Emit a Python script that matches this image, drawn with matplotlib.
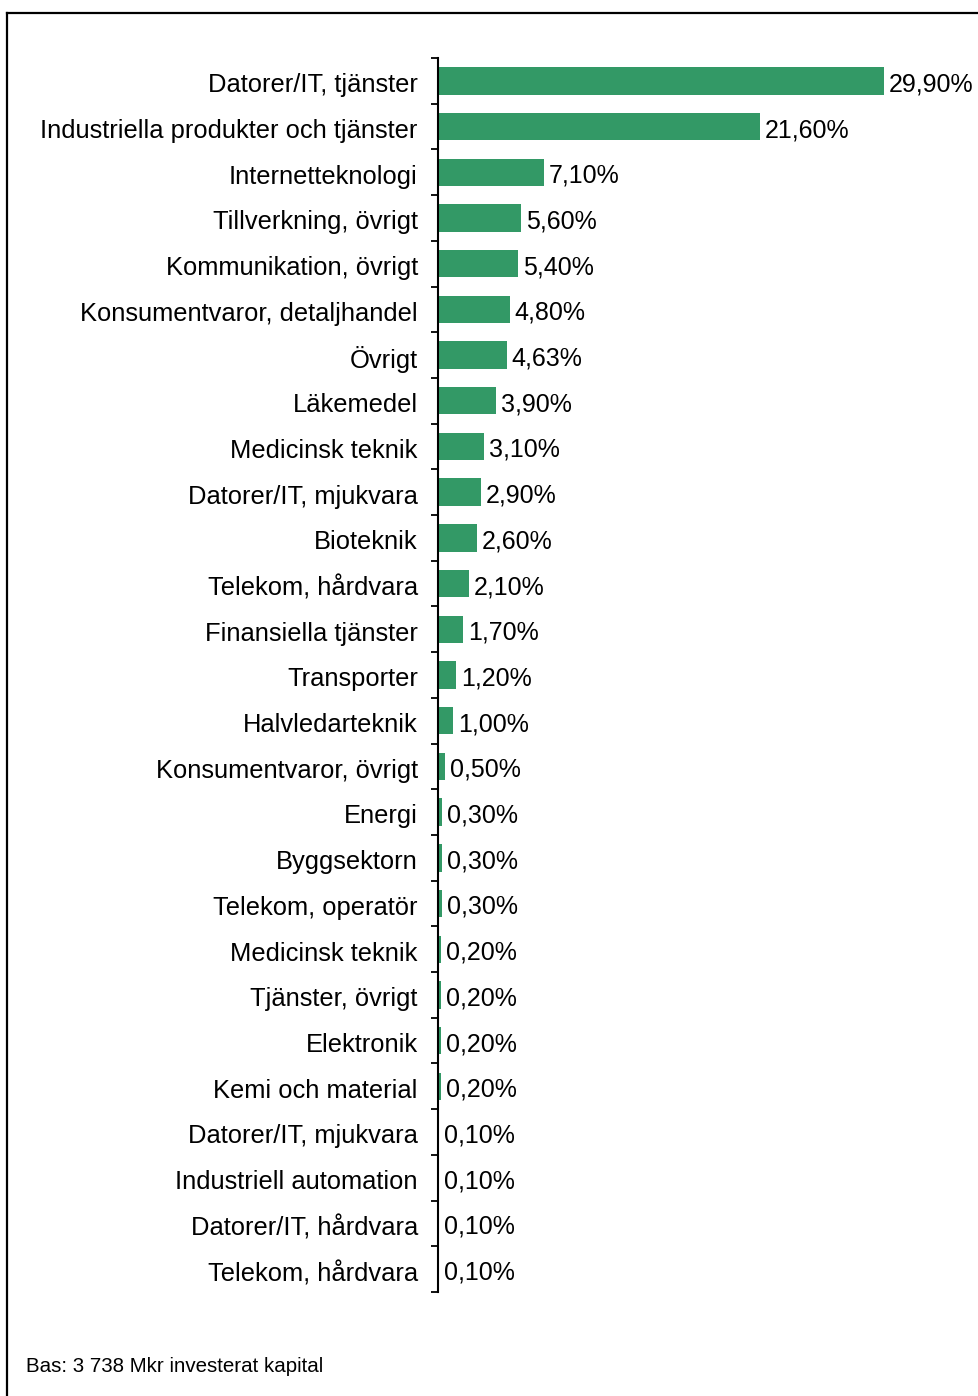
import matplotlib.pyplot as plt
import numpy as np
from matplotlib.lines import Line2D

# andel av investerat kapital per bransch (%)
branscher = [
    'Datorer/IT, tjänster',
    'Industriella produkter och tjänster',
    'Internetteknologi',
    'Tillverkning, övrigt',
    'Kommunikation, övrigt',
    'Konsumentvaror, detaljhandel',
    'Övrigt',
    'Läkemedel',
    'Medicinsk teknik',
    'Datorer/IT, mjukvara',
    'Bioteknik',
    'Telekom, hårdvara',
    'Finansiella tjänster',
    'Transporter',
    'Halvledarteknik',
    'Konsumentvaror, övrigt',
    'Energi',
    'Byggsektorn',
    'Telekom, operatör',
    'Medicinsk teknik',
    'Tjänster, övrigt',
    'Elektronik',
    'Kemi och material',
    'Datorer/IT, mjukvara',
    'Industriell automation',
    'Datorer/IT, hårdvara',
    'Telekom, hårdvara',
]
andel = [29.9, 21.6, 7.1, 5.6, 5.4, 4.8, 4.63, 3.9, 3.1, 2.9, 2.6, 2.1, 1.7,
         1.2, 1.0, 0.5, 0.3, 0.3, 0.3, 0.2, 0.2, 0.2, 0.2, 0.1, 0.1, 0.1, 0.1]
fotnot = 'Bas: 3 738 Mkr investerat kapital'

plt.rcParams['font.family'] = ['Liberation Sans', 'DejaVu Sans']

W, H = 979, 1396
fig = plt.figure(figsize=(W / 100, H / 100), dpi=100)
ax = fig.add_axes([438 / W, 1 - 1292 / H, 1 - 438 / W, (1292 - 58) / H])

y = np.arange(len(branscher))
ax.barh(y, andel, height=0.6, color='#339966', edgecolor='none')

for yi, v in zip(y, andel):
    ax.annotate(f'{v:.2f}%'.replace('.', ','), (v, yi), xytext=(3.5, -2.5),
                textcoords='offset points', va='center', ha='left',
                fontsize=18, color='black')

ax.set_xlim(0, 36.3)
ax.set_ylim(len(branscher) - 0.5, -0.5)

ax.set_yticks(y + 0.04)
ax.set_yticklabels(branscher, fontsize=18.4)
ax.set_yticks(np.arange(len(branscher) + 1) - 0.5, minor=True)
ax.tick_params(axis='y', which='major', length=0, pad=14.5)
ax.tick_params(axis='y', which='minor', length=5, width=1.3, direction='out')
ax.set_xticks([])

for s in ['top', 'right', 'bottom']:
    ax.spines[s].set_visible(False)
ax.spines['left'].set_linewidth(1.5)

# ram runt diagrammet (vänster och överkant)
x0, y0 = 7 / W, 1 - 13 / H
fig.add_artist(Line2D([x0, x0], [0, y0], color='black', lw=1.6))
fig.add_artist(Line2D([x0, 1], [y0, y0], color='black', lw=1.6))

fig.text(26 / W, 1 - 1367 / H, fotnot, fontsize=14.8, va='center', ha='left',
         family=['Liberation Sans Narrow', 'Liberation Sans'])

fig.savefig('out.png', dpi=100)
